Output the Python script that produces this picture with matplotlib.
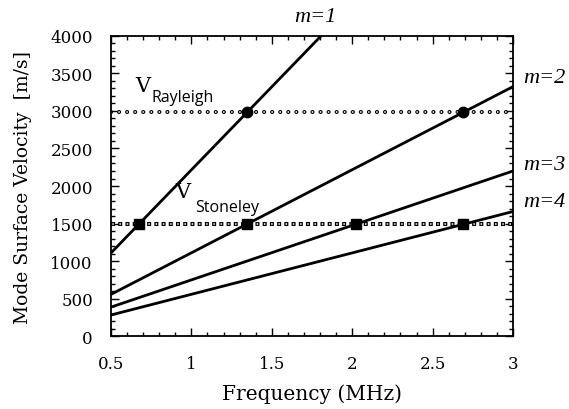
import numpy as np
import matplotlib
matplotlib.use("Agg")
import matplotlib.pyplot as plt
from matplotlib.ticker import MultipleLocator

# Data
freq = [0.5, 3.0]
modes = ["m=1", "m=2", "m=3", "m=4"]
v_m1 = [1107, 6645]
v_m2 = [555, 3325]
v_m3 = [385, 2200]
v_m4 = [280, 1660]
mode_vel = [v_m1, v_m2, v_m3, v_m4]
v_rayleigh = 2980
v_stoneley = 1490
xticks = [0.5, 1, 1.5, 2, 2.5, 3]
xticklabels = ["0.5", "1", "1.5", "2", "2.5", "3"]
yticks = [0, 500, 1000, 1500, 2000, 2500, 3000, 3500, 4000]

serif = "DejaVu Serif"
serif2 = "Liberation Serif"
sans = "Open Sans"

fig = plt.figure(figsize=(5.69, 4.10), dpi=100)
ax = fig.add_axes([0.195, 0.178, 0.7066, 0.7318])

# Mode lines
for v in mode_vel:
    ax.plot(freq, v, color="black", lw=2.0, solid_capstyle="butt", zorder=3)

# Rayleigh dotted line of open circles
P = 5.8
ax.plot(freq, [v_rayleigh, v_rayleigh], color="black", lw=3.0,
        linestyle=(0, (0.001, P / 3.0)), dash_capstyle="round", zorder=2)
ax.plot(freq, [v_rayleigh, v_rayleigh], color="white", lw=1.3,
        linestyle=(0, (0.001, P / 1.3)), dash_capstyle="round", zorder=2)

# Stoneley dotted line of open squares
Q = 5.2
ax.plot(freq, [v_stoneley, v_stoneley], color="black", lw=2.9,
        linestyle=(0, (1.0, (Q - 2.9) / 2.9)), dash_capstyle="butt", zorder=2)
ax.plot(freq, [v_stoneley, v_stoneley], color="white", lw=1.1,
        linestyle=((Q - 0.9) / 1.1, (1.0, (Q - 1.1) / 1.1)),
        dash_capstyle="butt", zorder=2)

# Intersection markers (derived from data)
for v in mode_vel:
    for target, mk, ms in [(v_rayleigh, "o", 7.5), (v_stoneley, "s", 7)]:
        if v[0] <= target <= v[1]:
            f = np.interp(target, v, freq)
            if f <= freq[1]:
                ax.plot([f], [target], marker=mk, ms=ms, color="black",
                        ls="none", zorder=4)

ax.set_xlim(0.5, 3)
ax.set_ylim(0, 4000)
ax.set_xticks(xticks)
ax.set_xticklabels(xticklabels)
ax.set_yticks(yticks)
ax.xaxis.set_minor_locator(MultipleLocator(0.1))
ax.yaxis.set_minor_locator(MultipleLocator(100))
ax.tick_params(which="both", direction="in", top=True, right=True,
               width=1.0, labelsize=12)
ax.tick_params(which="major", length=6)
ax.tick_params(which="minor", length=3)
for lab in ax.get_xticklabels() + ax.get_yticklabels():
    lab.set_fontfamily(serif)
ax.tick_params(axis="x", pad=14)
ax.tick_params(axis="y", pad=13)
for s in ax.spines.values():
    s.set_linewidth(1.3)

ax.set_xlabel("Frequency (MHz)", fontsize=14.5, family=serif, labelpad=8)
ax.set_ylabel("Mode Surface Velocity  [m/s]", fontsize=13.5, family=serif,
              labelpad=13)

# Annotations
ax.text(0.649, 3267, "V", fontsize=15, family=serif, ha="left", va="baseline")
ax.text(0.755, 3127, "Rayleigh", fontsize=11.5, family=sans, ha="left",
        va="baseline")
ax.text(0.898, 1853, "V", fontsize=15, family=serif, ha="left", va="baseline")
ax.text(1.022, 1667, "Stoneley", fontsize=11.5, family=sans, ha="left",
        va="baseline")

label_pos = [(0.5 + (315 - 111) / 402 * 2.5, 4200),
             (3.062, 3387), (3.062, 2227), (3.062, 1733)]
for name, (x, y) in zip(modes, label_pos):
    ax.text(x, y, name, fontsize=16, family=serif2, style="italic",
            ha="left" if x > 3 else "center", va="baseline", clip_on=False)

fig.savefig("out.png", dpi=100)
